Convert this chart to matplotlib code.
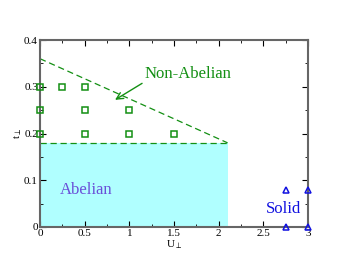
import matplotlib.pyplot as plt
from matplotlib.ticker import MultipleLocator, FuncFormatter

# squares: non-abelian points
sq_u = [0, 0.25, 0.5, 0, 0.5, 1.0, 0, 0.5, 1.0, 1.5]
sq_t = [0.3, 0.3, 0.3, 0.25, 0.25, 0.25, 0.2, 0.2, 0.2, 0.2]

# triangles: solid points
tri_u = [2.75, 2.75, 3.0, 3.0]
tri_t = [0.0, 0.08, 0.08, 0.0]

# phase boundaries
bound_u = [0, 2.1]
slope_t = [0.36, 0.18]
flat_t = [0.18, 0.18]

green = '#138f13'
plt.rcParams['font.family'] = 'Liberation Serif'

fig = plt.figure(figsize=(3.46, 2.68), dpi=100)
ax = fig.add_axes([40 / 346, 41 / 268, 268 / 346, 187 / 268])

ax.fill_between(bound_u, 0, flat_t, color='#b0ffff', lw=0, zorder=0)
ax.plot(bound_u, slope_t, '--', color=green, lw=0.9, dashes=(5, 3))
ax.plot(bound_u, flat_t, '--', color=green, lw=0.9, dashes=(5, 3))
ax.plot(sq_u, sq_t, 's', mfc='none', mec=green, ms=5, mew=1.1, clip_on=False, zorder=3)
ax.plot(tri_u, tri_t, '^', mfc='none', mec='#1010e0', ms=5, mew=1.1, clip_on=False, zorder=3)

ax.annotate('Non-Abelian', xy=(0.84, 0.272), xytext=(1.66, 0.328),
            color=green, fontsize=12, ha='center', va='center',
            arrowprops=dict(arrowstyle='->', color=green, lw=1.0,
                            shrinkA=0, shrinkB=0, relpos=(0.03, 0.1)))
ax.text(0.52, 0.079, 'Abelian', color='#6a4fd8', fontsize=12, ha='center', va='center')
ax.text(2.73, 0.038, 'Solid', color='#1010e0', fontsize=12, ha='center', va='center')

ax.set_xlim(0, 3)
ax.set_ylim(0, 0.4)
ax.xaxis.set_major_locator(MultipleLocator(0.5))
ax.xaxis.set_minor_locator(MultipleLocator(0.25))
ax.yaxis.set_major_locator(MultipleLocator(0.1))
ax.yaxis.set_minor_locator(MultipleLocator(0.05))
fmt = FuncFormatter(lambda v, p: '%g' % round(v, 3))
ax.xaxis.set_major_formatter(fmt)
ax.yaxis.set_major_formatter(fmt)
ax.tick_params(which='both', direction='in', top=True, right=True, labelsize=8, pad=1.5)
ax.tick_params(which='major', length=4)
ax.tick_params(which='minor', length=2)
ax.set_xlabel('U$_\\perp$', fontsize=8, labelpad=0)
ax.set_ylabel('t$_\\perp$', fontsize=8, labelpad=0)
for s in ax.spines.values():
    s.set_color('#666666')
    s.set_linewidth(1.5)

plt.savefig('out.png', dpi=100)
